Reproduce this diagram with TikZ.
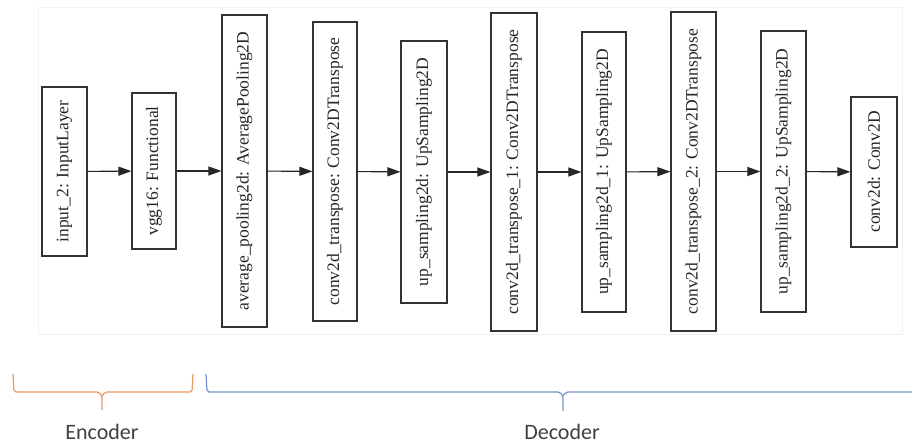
\documentclass[tikz,border=0pt]{standalone}
\usepackage{fontspec}
\setmainfont{Liberation Serif}
\newfontfamily\labelfont{Carlito}
\usetikzlibrary{arrows.meta}
\definecolor{encc}{RGB}{238,150,95}
\definecolor{decc}{RGB}{120,145,200}
\definecolor{lblc}{RGB}{64,64,64}
\tikzset{
  layerbox/.style={draw=black!80, line width=1.2pt, rotate=90, inner sep=0pt,
    font=\fontsize{17.5}{18}\selectfont, text=black!85},
  flow/.style={draw=black!85, line width=1.1pt, -{Triangle[length=13pt,width=9pt]}},
  bracebig/.style={line width=1.2pt, rounded corners=2pt},
  grp/.style={font=\labelfont\fontsize{22}{24}\selectfont, text=lblc, inner sep=0pt, anchor=base}
}
\begin{document}
\begin{tikzpicture}[x=1pt,y=-1pt]
\useasboundingbox (0,0) rectangle (912,443);
\draw[black!6, line width=0.8pt] (38,7) rectangle (902,334);
\node[layerbox, minimum width=169pt, minimum height=45pt] (n1) at (64.5,171.5) {input\_2: InputLayer};
\node[layerbox, minimum width=156pt, minimum height=44pt] (n2) at (154,171) {vgg16: Functional};
\node[layerbox, minimum width=312pt, minimum height=45pt] (n3) at (244.5,171) {average\_pooling2d: AveragePooling2D};
\node[layerbox, minimum width=299pt, minimum height=44pt] (n4) at (335,171.5) {conv2d\_transpose: Conv2DTranspose};
\node[layerbox, minimum width=262pt, minimum height=46pt] (n5) at (424,172) {up\_sampling2d: UpSampling2D};
\node[layerbox, minimum width=318pt, minimum height=46pt] (n6) at (514,172) {conv2d\_transpose\_1: Conv2DTranspose};
\node[layerbox, minimum width=280pt, minimum height=44pt] (n7) at (604,172) {up\_sampling2d\_1: UpSampling2D};
\node[layerbox, minimum width=319pt, minimum height=45pt] (n8) at (693.5,171.5) {conv2d\_transpose\_2: Conv2DTranspose};
\node[layerbox, minimum width=281pt, minimum height=45pt] (n9) at (783.5,171.5) {up\_sampling2d\_2: UpSampling2D};
\node[layerbox, minimum width=150pt, minimum height=46pt] (n10) at (874,172) {conv2d: Conv2D};
\foreach \a/\b in {n1/n2,n2/n3,n3/n4,n4/n5,n5/n6,n6/n7,n7/n8,n8/n9,n9/n10}
  \draw[flow] (\a) -- (\b);
% braces
\coordinate (etip) at (102,410);
\coordinate (dtip) at (563,411);
\draw[bracebig, encc] (13,374) -- (14,392) -- (99,392) -- (102,396) -- (etip);
\draw[bracebig, encc] (102,396) -- (105,392) -- (192,392) -- (193,374);
\draw[bracebig, decc] (206,374) -- (207,392) -- (560,392) -- (563,396) -- (dtip);
\draw[bracebig, decc] (563,396) -- (566,392) -- (913,392);
\node[grp] (enc) at (102,439) {Encoder};
\node[grp] (dec) at (562,439) {Decoder};
\end{tikzpicture}
\end{document}
